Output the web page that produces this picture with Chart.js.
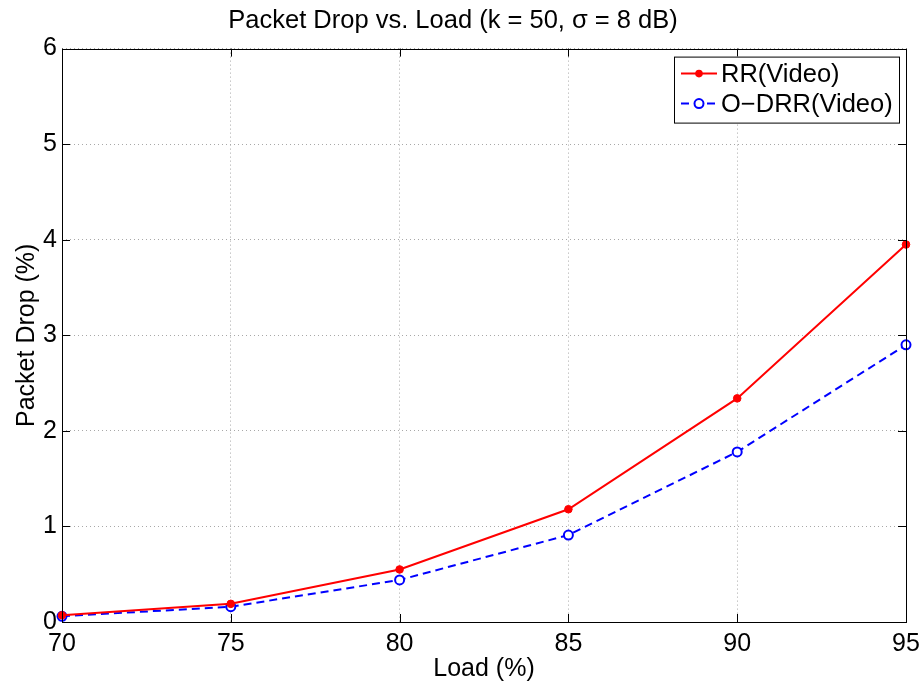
<!DOCTYPE html>
<html>
<head>
<meta charset="utf-8">
<title>Packet Drop vs. Load</title>
<script src="https://cdn.jsdelivr.net/npm/chart.js@4.4.1/dist/chart.umd.min.js"></script>
<style>
    html, body { margin: 0; padding: 0; background: #fff; }
    #wrap { width: 921px; height: 684px; }
</style>
</head>
<body>
<div id="wrap"><canvas id="dropChart" width="921" height="684"></canvas></div>
<script>
// Chart data
const loads = [70, 75, 80, 85, 90, 95];
const rrVideo = [0.07, 0.19, 0.55, 1.18, 2.34, 3.95];
const odrrVideo = [0.06, 0.16, 0.44, 0.91, 1.78, 2.90];
const xTicks = [70, 75, 80, 85, 90, 95];
const yTicks = [0, 1, 2, 3, 4, 5, 6];

const FONT = '"Liberation Sans", Arial, Helvetica, sans-serif';

// Box round the plot area plus small inward ticks, MATLAB style
const axesBox = {
    id: 'axesBox',
    afterDatasetsDraw(chart) {
        const { ctx, chartArea: a, scales } = chart;
        ctx.save();
        ctx.strokeStyle = '#000';
        ctx.lineWidth = 1;
        ctx.setLineDash([]);
        const len = 8;
        ctx.beginPath();
        xTicks.forEach(v => {
            const x = Math.round(scales.x.getPixelForValue(v)) + 0.5;
            ctx.moveTo(x, a.bottom); ctx.lineTo(x, a.bottom - len);
            ctx.moveTo(x, a.top); ctx.lineTo(x, a.top + len);
        });
        yTicks.forEach(v => {
            const y = Math.round(scales.y.getPixelForValue(v)) + 0.5;
            ctx.moveTo(a.left, y); ctx.lineTo(a.left + len, y);
            ctx.moveTo(a.right, y); ctx.lineTo(a.right - len, y);
        });
        ctx.stroke();
        ctx.strokeRect(Math.round(a.left) + 0.5, Math.round(a.top) + 0.5,
            Math.round(a.right - a.left), Math.round(a.bottom - a.top));
        ctx.restore();
    }
};

// Legend drawn inside the top right corner of the axes
const innerLegend = {
    id: 'innerLegend',
    afterDraw(chart) {
        const { ctx, chartArea: a } = chart;
        const w = 225, h = 66;
        const x0 = a.right - 7 - w, y0 = a.top + 8;
        ctx.save();
        ctx.fillStyle = '#fff';
        ctx.fillRect(x0, y0, w, h);
        ctx.strokeStyle = '#000';
        ctx.lineWidth = 1;
        ctx.strokeRect(x0 + 0.5, y0 + 0.5, w, h);
        ctx.font = '25.5px ' + FONT;
        ctx.textBaseline = 'middle';
        ctx.fillStyle = '#000';
        chart.data.datasets.forEach((ds, i) => {
            const y = y0 + 17 + i * 30;
            const lx = x0 + 7, rx = x0 + 43;
            ctx.strokeStyle = ds.borderColor;
            ctx.lineWidth = 2;
            ctx.setLineDash(ds.borderDash || []);
            ctx.beginPath();
            ctx.moveTo(lx, y); ctx.lineTo(rx, y);
            ctx.stroke();
            ctx.setLineDash([]);
            ctx.beginPath();
            ctx.arc((lx + rx) / 2, y, ds.pointRadius, 0, Math.PI * 2);
            if (ds.pointBackgroundColor !== '#fff') {
                ctx.fillStyle = ds.pointBackgroundColor;
                ctx.fill();
            } else {
                ctx.fillStyle = '#fff';
                ctx.fill();
                ctx.lineWidth = ds.pointBorderWidth;
                ctx.stroke();
            }
            ctx.fillStyle = '#000';
            ctx.fillText(ds.label, x0 + 47, y + 1);
        });
        ctx.restore();
    }
};

function fixWidth(w) {
    return function(scale) {
        scale.width = w;
        scale.paddingLeft = 0; scale.paddingRight = 0;
        scale.paddingTop = 0; scale.paddingBottom = 0;
    };
}
function fixHeight(h) {
    return function(scale) {
        scale.height = h;
        scale.paddingLeft = 0; scale.paddingRight = 0;
        scale.paddingTop = 0; scale.paddingBottom = 0;
    };
}

const ctx = document.getElementById('dropChart').getContext('2d');
const dropChart = new Chart(ctx, {
    type: 'line',
    data: {
        labels: loads,
        datasets: [
            {
                label: 'RR(Video)',
                data: loads.map((x, i) => ({ x: x, y: rrVideo[i] })),
                borderColor: '#ff0000',
                backgroundColor: '#ff0000',
                borderWidth: 2,
                pointRadius: 3.8,
                pointBackgroundColor: '#ff0000',
                pointBorderColor: '#ff0000',
                pointBorderWidth: 1,
                tension: 0,
                clip: false
            },
            {
                label: 'O\u2212DRR(Video)',
                data: loads.map((x, i) => ({ x: x, y: odrrVideo[i] })),
                borderColor: '#0000ff',
                backgroundColor: '#0000ff',
                borderWidth: 2,
                borderDash: [8, 5],
                pointRadius: 4.5,
                pointBackgroundColor: '#fff',
                pointBorderColor: '#0000ff',
                pointBorderWidth: 2,
                tension: 0,
                clip: false
            }
        ]
    },
    options: {
        responsive: false,
        animation: false,
        devicePixelRatio: 1,
        layout: { padding: { left: 0, right: 15, top: 0, bottom: 0 } },
        plugins: {
            legend: { display: false },
            tooltip: { enabled: false },
            title: {
                display: true,
                text: 'Packet Drop vs. Load (k = 50, \u03c3 = 8 dB)',
                color: '#000',
                font: { family: FONT, size: 25.5, weight: 'normal', lineHeight: 1.2 },
                padding: { top: 6, bottom: 12 }
            }
        },
        scales: {
            x: {
                type: 'linear',
                min: 70,
                max: 95,
                afterFit: fixHeight(62),
                afterBuildTicks(scale) { scale.ticks = xTicks.map(v => ({ value: v })); },
                ticks: {
                    color: '#000',
                    font: { family: FONT, size: 25 },
                    padding: 7,
                    maxRotation: 0
                },
                grid: { color: '#a8a8a8', lineWidth: 1, drawTicks: false },
                border: { display: false, dash: [1, 3] },
                title: {
                    display: true,
                    text: 'Load (%)',
                    color: '#000',
                    font: { family: FONT, size: 25 },
                    padding: { top: 6, bottom: 0 }
                }
            },
            y: {
                type: 'linear',
                min: 0,
                max: 6,
                afterFit: fixWidth(62),
                afterBuildTicks(scale) { scale.ticks = yTicks.map(v => ({ value: v })); },
                ticks: {
                    color: '#000',
                    font: { family: FONT, size: 25 },
                    padding: 5
                },
                grid: { color: '#a8a8a8', lineWidth: 1, drawTicks: false },
                border: { display: false, dash: [1, 3] },
                title: {
                    display: true,
                    text: 'Packet Drop (%)',
                    color: '#000',
                    font: { family: FONT, size: 25 },
                    padding: { top: 12, bottom: 0 }
                }
            }
        }
    },
    plugins: [axesBox, innerLegend]
});
</script>
</body>
</html>
